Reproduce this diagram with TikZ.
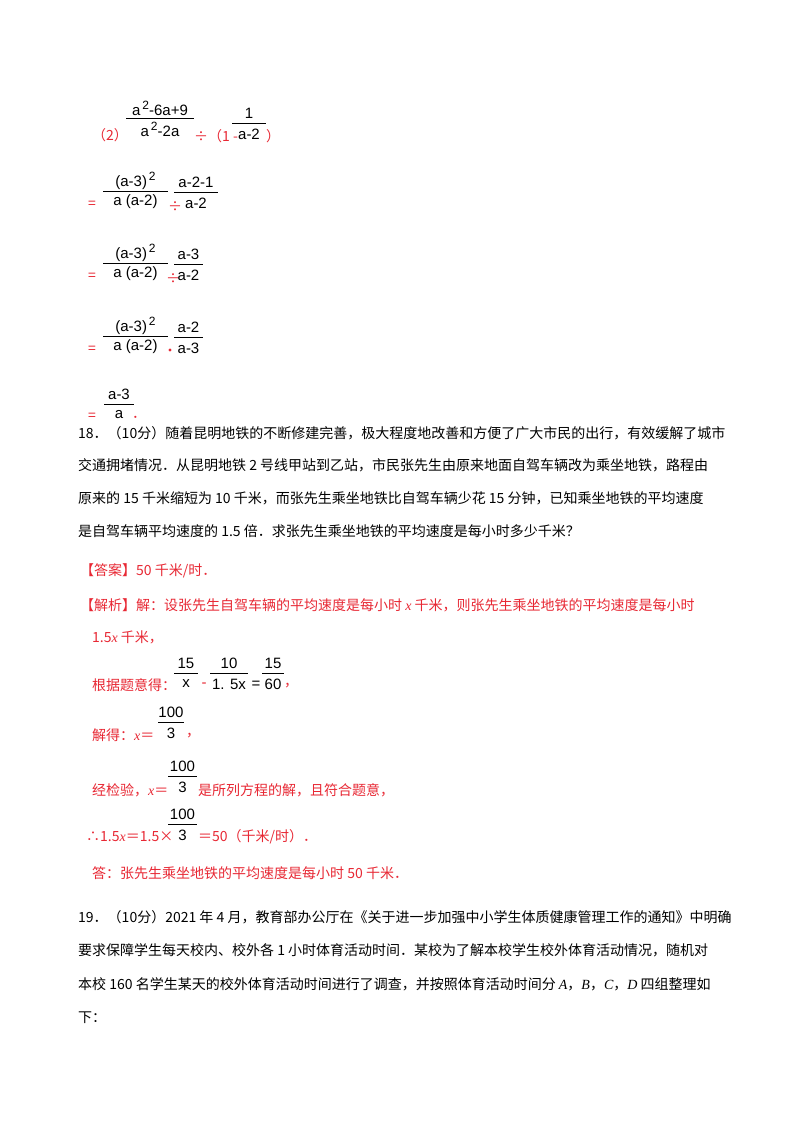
\documentclass[tikz,border=0pt]{standalone}
\usepackage{fontspec}
\setmainfont{Noto Sans CJK SC}
\newfontfamily\ser{Liberation Serif}
\newfontfamily\msans{Liberation Sans}
\definecolor{rd}{RGB}{232,40,52}
\tikzset{t/.style={anchor=west,inner sep=0pt,font=\fontsize{14}{16}\selectfont},
 r/.style={t,text=rd},
 mth/.style={inner sep=0pt,font=\msans\fontsize{15}{16}\selectfont},
 bar/.style={line width=0.9pt}}
\newcommand\myfrac[5]{%
 \draw[bar] (#1,#3) -- (#2,#3);
 \node[mth] at ({(#1+#2)/2},#3-10) {#4};
 \node[mth] at ({(#1+#2)/2},#3+11) {#5};}
\newcommand\myx{{\ser\itshape x}}
\newcommand\sq{\raisebox{6pt}{\fontsize{12}{12}\selectfont\,2}}
\begin{document}
\begin{tikzpicture}[x=1pt,y=-1pt]
\useasboundingbox[fill=white] (0,0) rectangle (800,1132);
% part (2)
\node[r] (p2) at (92,135) {（2）};
\myfrac{126}{194}{118}{a\sq-6a+9}{a\sq-2a}
\node[r] (p2b) at (194,136) {÷（1 -};
\myfrac{232}{266}{123}{1}{a-2}
\node[r] (p2c) at (266,136) {）};
% step 1
\node[r] (e1) at (88,205) {=};
\myfrac{103}{168}{191}{(a-3)\sq}{a (a-2)}
\node[r] at (168,207) {÷};
\myfrac{174}{218}{192}{a-2-1}{a-2}
% step 2
\node[r] (e2) at (88,277) {=};
\myfrac{103}{168}{263}{(a-3)\sq}{a (a-2)}
\node[r] at (166,279) {÷};
\myfrac{174}{203}{264}{a-3}{a-2}
% step 3
\node[r] (e3) at (88,350) {=};
\myfrac{103}{168}{336}{(a-3)\sq}{a (a-2)}
\fill[rd] (170,350) circle (1.6);
\myfrac{174}{203}{337}{a-2}{a-3}
% step 4
\node[r] (e4) at (88,417) {=};
\myfrac{104}{134}{404}{a-3}{a}
\node[r] at (132,417) {．};
% problem 18
\node[t] (l1) at (78,433) {18．（10分）随着昆明地铁的不断修建完善，极大程度地改善和方便了广大市民的出行，有效缓解了城市};
\node[t] (l2) at (78,465) {交通拥堵情况．从昆明地铁 2 号线甲站到乙站，市民张先生由原来地面自驾车辆改为乘坐地铁，路程由};
\node[t] (l3) at (78,498) {原来的 15 千米缩短为 10 千米，而张先生乘坐地铁比自驾车辆少花 15 分钟，已知乘坐地铁的平均速度};
\node[t] (l4) at (78,531) {是自驾车辆平均速度的 1.5 倍．求张先生乘坐地铁的平均速度是每小时多少千米？};
\node[r] (ans) at (80,571) {【答案】50 千米/时．};
\node[r] (an1) at (80,605) {【解析】解：设张先生自驾车辆的平均速度是每小时 \myx\ 千米，则张先生乘坐地铁的平均速度是每小时};
\node[r] (an2) at (92,637) {1.5\myx\ 千米，};
\node[r] (an3) at (92,685) {根据题意得：};
\myfrac{174}{198}{673}{15}{x}
\node[mth,text=rd] at (204,685) {-};
\myfrac{210}{248}{673}{10}{1. 5x}
\node[mth] at (256,685) {=};
\myfrac{262}{284}{673}{15}{60}
\node[r] at (284,686) {，};
\node[r] (an4) at (92,735) {解得：\myx＝};
\myfrac{158}{184}{722}{100}{3}
\node[r] at (186,736) {，};
\node[r] (an5) at (92,790) {经检验，\myx＝};
\myfrac{168}{197}{776}{100}{3}
\node[r] at (198,790) {是所列方程的解，且符合题意，};
\node[r] (an6) at (86,837) {∴1.5\myx＝1.5×};
\myfrac{168}{197}{824}{100}{3}
\node[r] at (198,837) {＝50（千米/时）．};
\node[r] (an7) at (92,873) {答：张先生乘坐地铁的平均速度是每小时 50 千米．};
% problem 19
\node[t] (m1) at (78,917) {19．（10分）2021 年 4 月，教育部办公厅在《关于进一步加强中小学生体质健康管理工作的通知》中明确};
\node[t] (m2) at (78,950) {要求保障学生每天校内、校外各 1 小时体育活动时间．某校为了解本校学生校外体育活动情况，随机对};
\node[t] (m3) at (78,984) {本校 160 名学生某天的校外体育活动时间进行了调查，并按照体育活动时间分 {\ser\itshape A}，{\ser\itshape B}，{\ser\itshape C}，{\ser\itshape D} 四组整理如};
\node[t] (m4) at (78,1018) {下：};
\end{tikzpicture}
\end{document}
